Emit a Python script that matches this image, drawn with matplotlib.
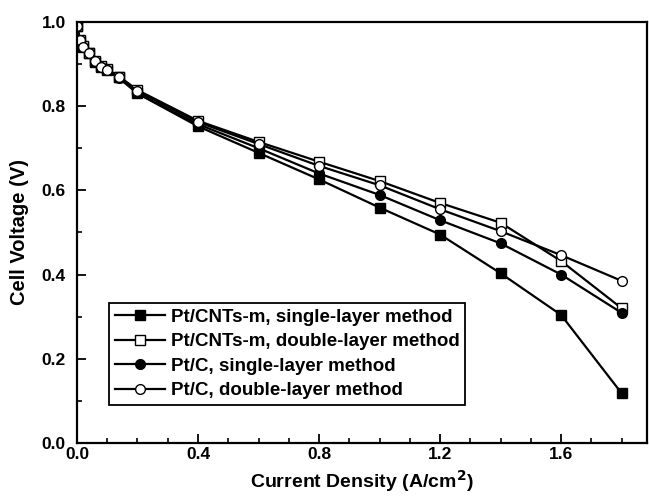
import numpy as np
import matplotlib.pyplot as plt
from matplotlib.ticker import MultipleLocator

plt.rcParams['font.family'] = ['Liberation Sans', 'DejaVu Sans']
plt.rcParams['font.weight'] = 'bold'

# current density (A/cm2)
current = [0.0, 0.01, 0.02, 0.04, 0.06, 0.08, 0.10, 0.14, 0.2, 0.4, 0.6, 0.8, 1.0, 1.2, 1.4, 1.6, 1.8]

# cell voltage (V)
cnt_single = [0.99, 0.955, 0.940, 0.925, 0.905, 0.893, 0.885, 0.868, 0.830, 0.752, 0.689, 0.626, 0.559, 0.495, 0.403, 0.304, 0.118]
cnt_double = [0.99, 0.957, 0.942, 0.927, 0.908, 0.895, 0.887, 0.870, 0.838, 0.765, 0.715, 0.668, 0.622, 0.570, 0.523, 0.432, 0.320]
c_single = [0.99, 0.955, 0.940, 0.925, 0.905, 0.893, 0.885, 0.866, 0.830, 0.757, 0.700, 0.640, 0.589, 0.529, 0.474, 0.400, 0.309]
c_double = [0.99, 0.956, 0.941, 0.926, 0.907, 0.894, 0.886, 0.869, 0.835, 0.762, 0.710, 0.658, 0.612, 0.555, 0.503, 0.446, 0.385]

labels = ['Pt/CNTs-m, single-layer method',
          'Pt/CNTs-m, double-layer method',
          'Pt/C, single-layer method',
          'Pt/C, double-layer method']

fig = plt.figure(figsize=(6.49, 4.96), dpi=100)
ax = fig.add_axes([0.1186, 0.1069, 0.8784, 0.849])

ax.plot(current, cnt_single, 'k-', marker='s', mfc='k', mec='k', ms=6.5, lw=1.6, label=labels[0])
ax.plot(current, cnt_double, 'k-', marker='s', mfc='w', mec='k', ms=6.5, lw=1.6, label=labels[1])
ax.plot(current, c_single, 'k-', marker='o', mfc='k', mec='k', ms=7, lw=1.6, label=labels[2])
ax.plot(current, c_double, 'k-', marker='o', mfc='w', mec='k', ms=7, lw=1.6, label=labels[3])

ax.set_xlim(0, 1.884)
ax.set_ylim(0, 1.0)
ax.xaxis.set_major_locator(MultipleLocator(0.4))
ax.xaxis.set_minor_locator(MultipleLocator(0.1))
ax.yaxis.set_major_locator(MultipleLocator(0.2))
ax.yaxis.set_minor_locator(MultipleLocator(0.1))
ax.xaxis.set_major_formatter(plt.FormatStrFormatter('%.1f'))
ax.yaxis.set_major_formatter(plt.FormatStrFormatter('%.1f'))
ax.tick_params(which='major', direction='in', length=6.5, width=1.3, labelsize=12.5)
ax.tick_params(axis='x', which='major', pad=3)
ax.tick_params(axis='y', which='major', pad=8)
ax.tick_params(which='minor', direction='in', length=3.5, width=1.2)
for s in ax.spines.values():
    s.set_linewidth(1.6)

ax.set_xlabel('Current Density (A/cm$^\\mathbf{2}$)', fontsize=14, fontweight='bold', labelpad=4)
ax.set_ylabel('Cell Voltage (V)', fontsize=14.5, fontweight='bold', labelpad=9)

leg = ax.legend(loc='lower left', bbox_to_anchor=(0.056, 0.09), borderaxespad=0, fontsize=13.5,
                frameon=True, fancybox=False, edgecolor='k', framealpha=1,
                handlelength=2.7, labelspacing=0.4, borderpad=0.3, handletextpad=0.3)
leg.get_frame().set_linewidth(1.3)

plt.savefig('out.png', dpi=100)
